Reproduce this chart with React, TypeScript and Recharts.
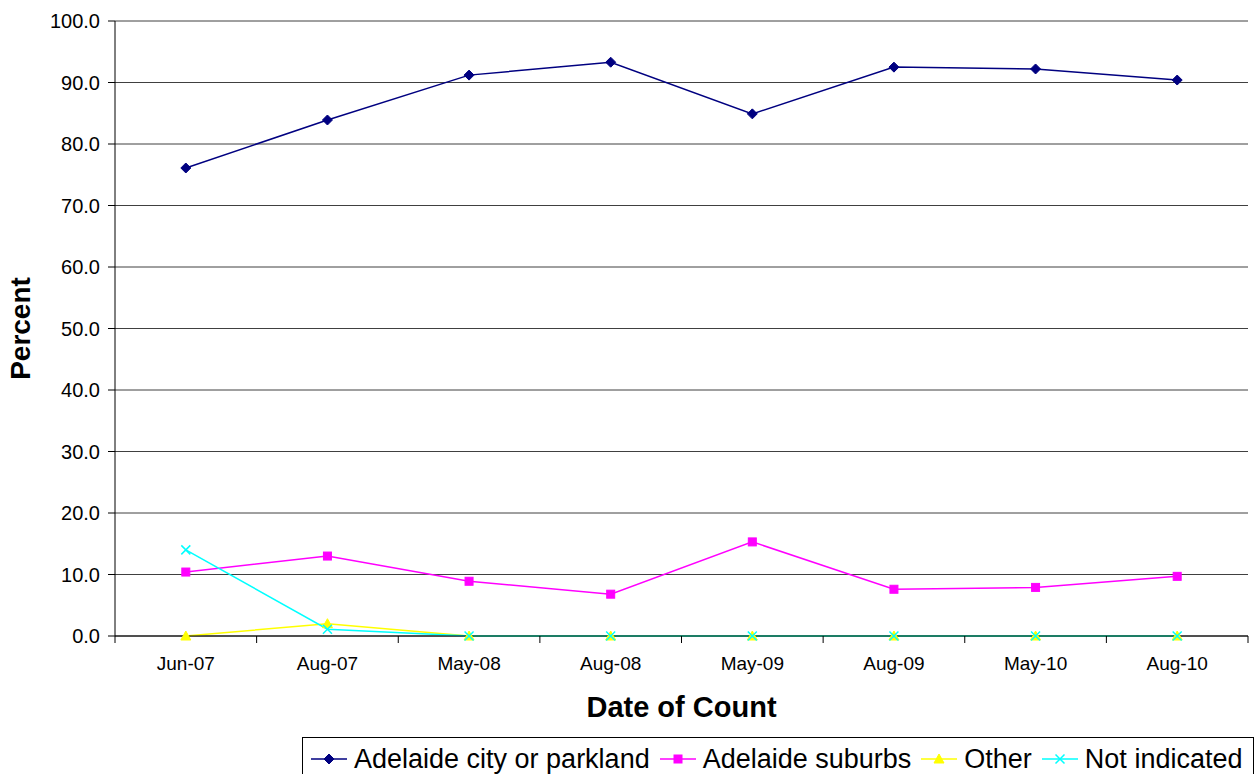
import React from 'react';
import { LineChart, Line, XAxis, YAxis, CartesianGrid, Label } from 'recharts';

const dates = ['Jun-07', 'Aug-07', 'May-08', 'Aug-08', 'May-09', 'Aug-09', 'May-10', 'Aug-10'];
const cityOrParkland = [76.1, 83.9, 91.2, 93.3, 84.9, 92.5, 92.2, 90.4];
const suburbs = [10.4, 13.0, 8.9, 6.8, 15.3, 7.6, 7.9, 9.7];
const other = [0, 2.0, 0, 0, 0, 0, 0, 0];
const notIndicated = [14.0, 1.1, 0, 0, 0, 0, 0, 0];
const yTicks = [0, 10, 20, 30, 40, 50, 60, 70, 80, 90, 100];

const data = dates.map((d, i) => ({
  date: d,
  city: cityOrParkland[i],
  suburbs: suburbs[i],
  other: other[i],
  notIndicated: notIndicated[i],
}));

const W = 1257;
const H = 774;
const M = { top: 21, right: 9, left: 0, bottom: 0 };
const Y_W = 115;
const BAND = (W - Y_W - M.right) / dates.length;
const FONT = '"Liberation Sans", Arial, sans-serif';

const NAVY = '#000080';
const MAGENTA = '#FF00FF';
const YELLOW = '#FFFF00';
const CYAN = '#00FFFF';

const Diamond = ({ cx, cy }: any) => (
  <path d={`M${cx},${cy - 5} L${cx + 5},${cy} L${cx},${cy + 5} L${cx - 5},${cy} Z`} fill={NAVY} stroke={NAVY} />
);
const Square = ({ cx, cy }: any) => (
  <rect x={cx - 4} y={cy - 4} width={8} height={8} fill={MAGENTA} stroke={MAGENTA} />
);
const Triangle = ({ cx, cy }: any) => (
  <path d={`M${cx},${cy - 5} L${cx + 5},${cy + 4} L${cx - 5},${cy + 4} Z`} fill={YELLOW} stroke={YELLOW} />
);
const Cross = ({ cx, cy }: any) => (
  <path d={`M${cx - 4.5},${cy - 4.5} L${cx + 4.5},${cy + 4.5} M${cx + 4.5},${cy - 4.5} L${cx - 4.5},${cy + 4.5}`} stroke={CYAN} strokeWidth={1.5} fill="none" />
);

const XTick = ({ x, y, payload, index }: any) => {
  const half = BAND / 2;
  return (
    <g>
      <line x1={x - half} x2={x - half} y1={y} y2={y + 7} stroke="#000" />
      {index === dates.length - 1 && <line x1={x + half} x2={x + half} y1={y} y2={y + 7} stroke="#000" />}
      <text x={x} y={y + 34} textAnchor="middle" fontSize={19} fontFamily={FONT} fill="#000">
        {payload.value}
      </text>
    </g>
  );
};

const YLabel = ({ viewBox }: any) => {
  const cx = 20;
  const cy = viewBox.y + viewBox.height / 2;
  return (
    <text x={cx} y={cy} transform={`rotate(-90 ${cx} ${cy})`} textAnchor="middle" dominantBaseline="central"
      fontSize={28} fontWeight="bold" fontFamily={FONT} fill="#000">
      Percent
    </text>
  );
};

const XLabel = ({ viewBox }: any) => {
  const cx = viewBox.x + viewBox.width / 2;
  return (
    <text x={cx} y={717} textAnchor="middle" fontSize={29} fontWeight="bold" fontFamily={FONT} fill="#000">
      Date of Count
    </text>
  );
};

const legendItems = [
  { label: 'Adelaide city or parkland', color: NAVY, Marker: Diamond },
  { label: 'Adelaide suburbs', color: MAGENTA, Marker: Square },
  { label: 'Other', color: YELLOW, Marker: Triangle },
  { label: 'Not indicated', color: CYAN, Marker: Cross },
];

const ChartLegend = () => (
  <div style={{
    position: 'absolute', left: 302, top: 737, width: 952, height: 42, border: '1px solid #000',
    display: 'flex', alignItems: 'center', paddingLeft: 8, paddingTop: 2, boxSizing: 'border-box',
    fontFamily: FONT, fontSize: 27, whiteSpace: 'nowrap', background: '#fff',
  }}>
    {legendItems.map(({ label, color, Marker }) => (
      <div key={label} style={{ display: 'flex', alignItems: 'center', marginRight: 10 }}>
        <svg width={36} height={14} style={{ marginRight: 7 }}>
          <line x1={0} x2={36} y1={7} y2={7} stroke={color} strokeWidth={1.5} />
          <Marker cx={18} cy={7} />
        </svg>
        <span>{label}</span>
      </div>
    ))}
  </div>
);

export default function App() {
  return (
    <div style={{ position: 'absolute', left: 0, top: 0, width: W, height: H, background: '#fff', overflow: 'hidden' }}>
      <LineChart width={W} height={H} data={data} margin={M}>
        <CartesianGrid vertical={false} stroke="#000" strokeOpacity={0.75} />
        <XAxis dataKey="date" height={H - M.top - 615} axisLine={{ stroke: '#000' }} tickLine={false}
          tickSize={0} tickMargin={0} tick={<XTick />} interval={0} padding={{ left: BAND / 2, right: BAND / 2 }}>
          <Label content={<XLabel />} />
        </XAxis>
        <YAxis width={Y_W} domain={[0, 100]} ticks={yTicks} interval={0} tickFormatter={(v: number) => v.toFixed(1)}
          axisLine={{ stroke: '#000' }} tickLine={{ stroke: '#000' }} tickSize={7} tickMargin={8}
          tick={{ fontSize: 20, fontFamily: FONT, fill: '#000' }}>
          <Label content={<YLabel />} />
        </YAxis>
        <Line dataKey="city" stroke={NAVY} strokeWidth={1.5} dot={(p: any) => <Diamond key={p.index} {...p} />} isAnimationActive={false} />
        <Line dataKey="suburbs" stroke={MAGENTA} strokeWidth={1.5} dot={(p: any) => <Square key={p.index} {...p} />} isAnimationActive={false} />
        <Line dataKey="other" stroke={YELLOW} strokeWidth={1.5} dot={(p: any) => <Triangle key={p.index} {...p} />} isAnimationActive={false} />
        <Line dataKey="notIndicated" stroke={CYAN} strokeWidth={1.5} dot={(p: any) => <Cross key={p.index} {...p} />} isAnimationActive={false} />
      </LineChart>
      <ChartLegend />
    </div>
  );
}
